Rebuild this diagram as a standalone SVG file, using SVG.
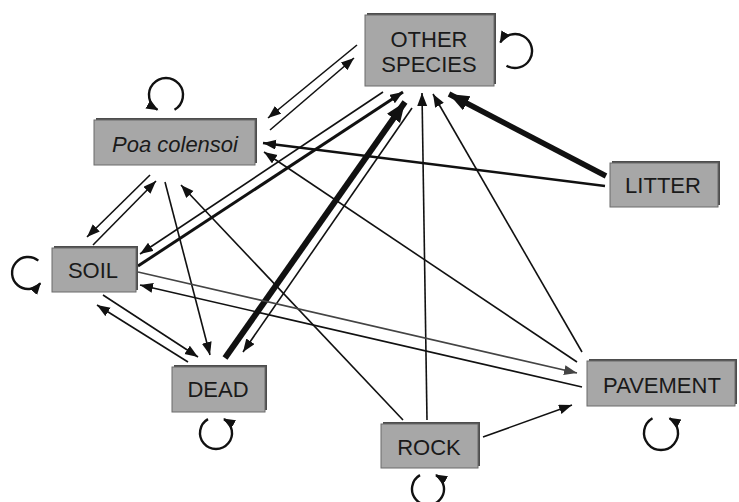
<svg xmlns="http://www.w3.org/2000/svg" width="739" height="502" viewBox="0 0 739 502">
<style>
.box{fill:#a7a7a7;stroke:#6b6b6b;stroke-width:1}
.sh{fill:#4d4d4d}
.t{font-family:"Liberation Sans",Arial,sans-serif;font-size:22px;fill:#1a1a1a;text-anchor:middle}
.e{fill:none;stroke:#111;stroke-width:1.6;marker-end:url(#a)}
.loop{fill:none;stroke:#111;stroke-width:2.4;marker-end:url(#la)}
</style>
<defs>
<marker id="a" markerUnits="userSpaceOnUse" markerWidth="14" markerHeight="12" refX="13" refY="5" orient="auto"><path d="M0,0 L13,5 L0,10 z" fill="#111"/></marker>
<marker id="ag" markerUnits="userSpaceOnUse" markerWidth="14" markerHeight="12" refX="13" refY="5" orient="auto"><path d="M0,0 L13,5 L0,10 z" fill="#444"/></marker>
<marker id="b" markerUnits="userSpaceOnUse" markerWidth="22" markerHeight="18" refX="20" refY="8" orient="auto"><path d="M0,0 L20,8 L0,16 z" fill="#111"/></marker>
<marker id="la" markerUnits="userSpaceOnUse" markerWidth="14" markerHeight="12" refX="11" refY="5" orient="auto"><path d="M0,0 L12,5 L0,10 z" fill="#111"/></marker>
</defs>
<g id="connectors">
<line class="e" x1="357" y1="45" x2="268" y2="118"/>
<line class="e" x1="270" y1="130" x2="354" y2="58"/>
<line class="e" x1="605" y1="186" x2="263" y2="143" style="stroke-width:2.5"/>
<line class="e" x1="606" y1="176" x2="449" y2="94" style="stroke-width:5.5;marker-end:url(#b)"/>
<line class="e" x1="383" y1="92" x2="140" y2="254"/>
<line class="e" x1="138" y1="266" x2="403" y2="92" style="stroke-width:3"/>
<line class="e" x1="225" y1="358" x2="405" y2="102" style="stroke-width:6;marker-end:url(#b)"/>
<line class="e" x1="412" y1="108" x2="243" y2="352"/>
<line class="e" x1="427" y1="420" x2="422" y2="93"/>
<line class="e" x1="582" y1="352" x2="433" y2="94"/>
<line class="e" x1="150" y1="175" x2="87" y2="237"/>
<line class="e" x1="93" y1="245" x2="156" y2="181"/>
<line class="e" x1="165" y1="182" x2="210" y2="355"/>
<line class="e" x1="403" y1="420" x2="181" y2="185"/>
<line class="e" x1="577" y1="362" x2="264" y2="152"/>
<line class="e" x1="103" y1="295" x2="198" y2="357"/>
<line class="e" x1="188" y1="362" x2="97" y2="305"/>
<line class="e" x1="138" y1="272" x2="577" y2="373" style="stroke:#444;marker-end:url(#ag)"/>
<line class="e" x1="582" y1="387" x2="140" y2="285"/>
<line class="e" x1="483" y1="437" x2="572" y2="405"/>
</g>
<g id="other-species">
<rect class="sh" x="367" y="13" width="129" height="71"/>
<rect class="box" x="365" y="15" width="129" height="71"/>
<text class="t" x="429" y="47">OTHER</text>
<text class="t" x="429" y="72">SPECIES</text>
<path class="loop" d="M506.5,65.7 A17,17 0 1 0 500.3,42.5"/>
</g>
<g id="poa-colensoi">
<rect class="sh" x="96" y="118" width="161" height="45"/>
<rect class="box" x="94" y="120" width="161" height="45"/>
<text class="t" x="175" y="152" style="font-style:italic">Poa colensoi</text>
<path class="loop" d="M174.5,109.7 A17,17 0 1 0 157.5,109.7"/>
</g>
<g id="soil">
<rect class="sh" x="54" y="246" width="84" height="44"/>
<rect class="box" x="52" y="248" width="84" height="44"/>
<text class="t" x="93" y="278">SOIL</text>
<path class="loop" d="M38.3,260.7 A16,16 0 1 0 40.3,283.3"/>
</g>
<g id="dead">
<rect class="sh" x="174" y="365" width="93" height="45"/>
<rect class="box" x="172" y="367" width="93" height="45"/>
<text class="t" x="218" y="397">DEAD</text>
<path class="loop" d="M208,419.1 A16,16 0 1 0 224,419.1"/>
</g>
<g id="rock">
<rect class="sh" x="383" y="422" width="97" height="44"/>
<rect class="box" x="381" y="424" width="97" height="44"/>
<text class="t" x="429" y="455">ROCK</text>
<path class="loop" d="M420,475.1 A16,16 0 1 0 436,475.1"/>
</g>
<g id="pavement">
<rect class="sh" x="589" y="359" width="148" height="45"/>
<rect class="box" x="587" y="361" width="148" height="45"/>
<text class="t" x="662" y="393">PAVEMENT</text>
<path class="loop" d="M652.5,418.3 A17,17 0 1 0 669.5,418.3"/>
</g>
<g id="litter">
<rect class="sh" x="612" y="161" width="108" height="44"/>
<rect class="box" x="610" y="163" width="108" height="44"/>
<text class="t" x="663" y="193">LITTER</text>
</g>
</svg>
